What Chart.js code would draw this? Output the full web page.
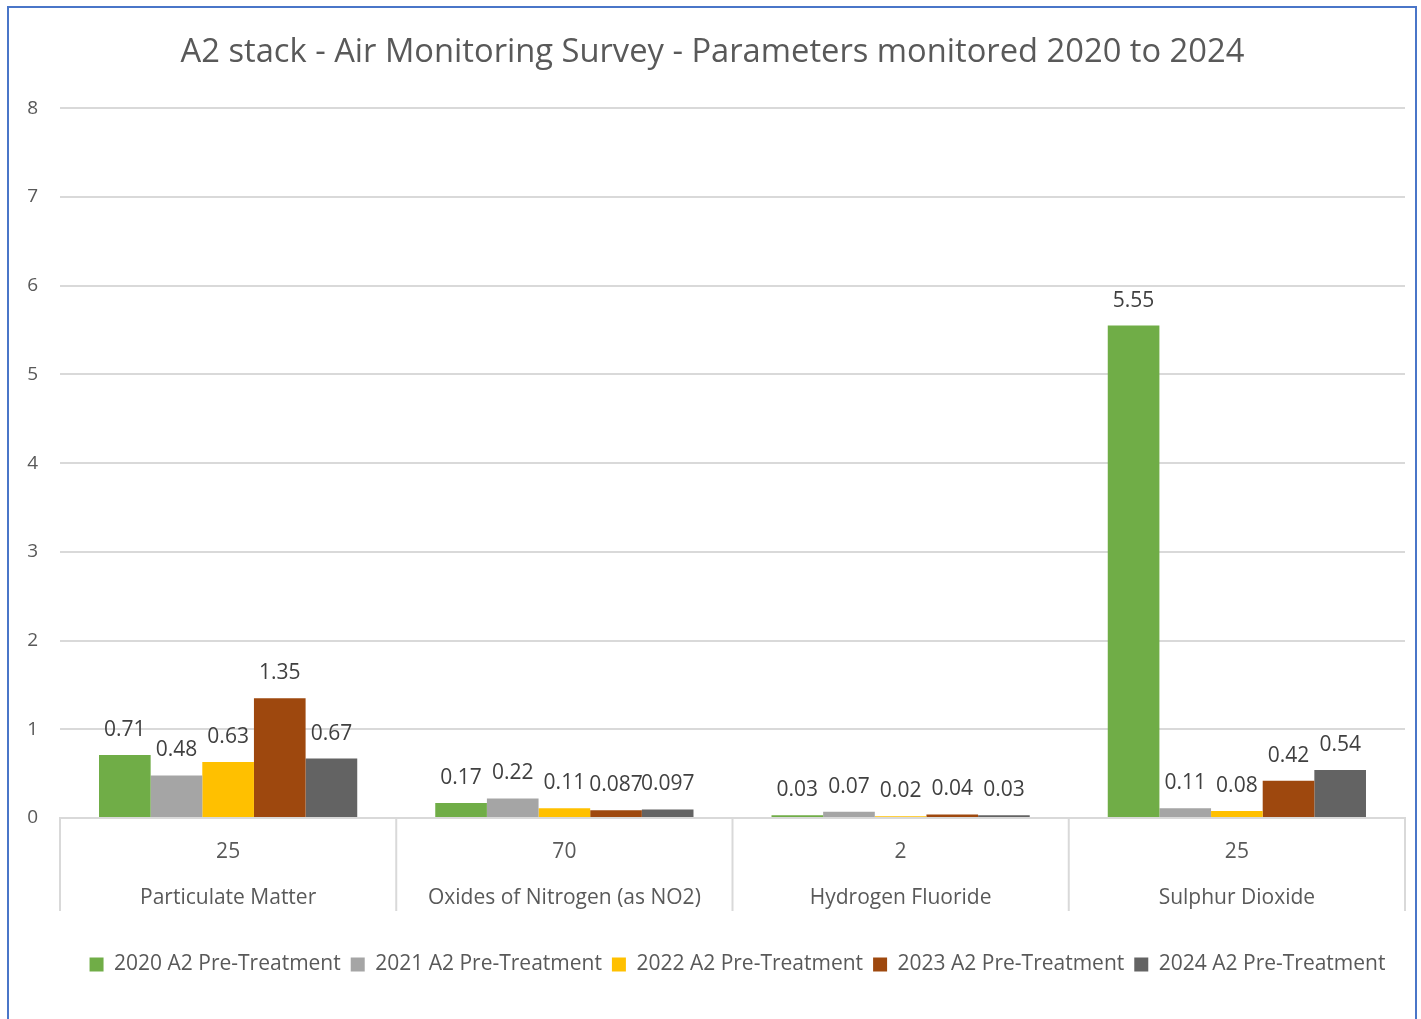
<!DOCTYPE html>
<html>
<head>
<meta charset="utf-8">
<script src="https://cdn.jsdelivr.net/npm/chart.js@4/dist/chart.umd.min.js"></script>
<style>
  html, body { margin: 0; padding: 0; background: #ffffff; overflow: hidden; }
  #wrap { position: relative; width: 1421px; height: 1019px; }
  #frame { position: absolute; left: 7px; top: 6px; width: 1406px; height: 1040px; border: 2px solid #4a76c8; box-sizing: content-box; }
  canvas { position: absolute; left: 0; top: 0; }
</style>
</head>
<body>
<div id="wrap">
  <div id="frame"></div>
  <canvas id="c" width="1421" height="1019"></canvas>
</div>
<script>
const categories = ['Particulate Matter', 'Oxides of Nitrogen (as NO2)', 'Hydrogen Fluoride', 'Sulphur Dioxide'];
const limitLabels = ['25', '70', '2', '25'];
const seriesNames = ['2020 A2 Pre-Treatment', '2021 A2 Pre-Treatment', '2022 A2 Pre-Treatment', '2023 A2 Pre-Treatment', '2024 A2 Pre-Treatment'];
const values2020 = [0.71, 0.17, 0.03, 5.55];
const values2021 = [0.48, 0.22, 0.07, 0.11];
const values2022 = [0.63, 0.11, 0.02, 0.08];
const values2023 = [1.35, 0.087, 0.04, 0.42];
const values2024 = [0.67, 0.097, 0.03, 0.54];
const yTicks = [0, 1, 2, 3, 4, 5, 6, 7, 8];

const colors = ['#70ad47', '#a5a5a5', '#ffc000', '#9e480e', '#636363'];
const allValues = [values2020, values2021, values2022, values2023, values2024];

const FONT = "'Open Sans', 'Noto Sans', sans-serif";
const TEXT = '#595959';

const valueLabels = {
  id: 'valueLabels',
  afterDatasetsDraw(chart) {
    const ctx = chart.ctx;
    ctx.save();
    ctx.font = '21px ' + FONT;
    ctx.fillStyle = '#404040';
    ctx.textAlign = 'center';
    ctx.textBaseline = 'middle';
    chart.data.datasets.forEach((ds, di) => {
      const meta = chart.getDatasetMeta(di);
      meta.data.forEach((bar, i) => {
        ctx.fillText(String(ds.data[i]), bar.x, bar.y - 25);
      });
    });
    ctx.restore();
  }
};

// vertical separators between categories, below the axis (Excel multi-level axis style)
const categoryDividers = {
  id: 'categoryDividers',
  afterDraw(chart) {
    const xs = chart.scales.x;
    const n = chart.data.labels.length;
    const w = (xs.right - xs.left) / n;
    const ctx = chart.ctx;
    ctx.save();
    ctx.strokeStyle = '#d9d9d9';
    ctx.lineWidth = 2;
    for (let i = 0; i <= n; i++) {
      const px = i < n ? xs.getPixelForValue(i) - w / 2 : xs.getPixelForValue(n - 1) + w / 2;
      ctx.beginPath();
      ctx.moveTo(px, xs.top);
      ctx.lineTo(px, xs.top + 93);
      ctx.stroke();
    }
    ctx.restore();
  }
};

// nudge the legend row slightly to the right, as in the original
const legendShift = {
  id: 'legendShift',
  afterLayout(chart) {
    if (chart.legend) {
      chart.legend.left += 25;
      chart.legend.right += 25;
    }
  }
};

new Chart(document.getElementById('c'), {
  type: 'bar',
  data: {
    labels: categories.map((c, i) => [limitLabels[i], c]),
    datasets: seriesNames.map((n, i) => ({
      label: n,
      data: allValues[i],
      backgroundColor: colors[i],
      borderWidth: 0,
      barPercentage: 1.0,
      categoryPercentage: 0.768
    }))
  },
  options: {
    responsive: false,
    animation: false,
    devicePixelRatio: 1,
    layout: { padding: { left: 20, right: 16, top: 12, bottom: 34 } },
    plugins: {
      title: {
        display: true,
        text: 'A2 stack - Air Monitoring Survey - Parameters monitored 2020 to 2024',
        color: TEXT,
        font: { family: FONT, size: 32.7, weight: 'normal' },
        padding: { top: 21, bottom: 36 }
      },
      legend: {
        position: 'bottom',
        labels: {
          color: TEXT,
          font: { family: FONT, size: 21 },
          boxWidth: 14,
          boxHeight: 14,
          padding: 10
        }
      },
      tooltip: { enabled: false }
    },
    scales: {
      x: {
        afterFit: s => { s.height = 126; },
        border: { display: true, color: '#d9d9d9', width: 2 },
        grid: { display: false },
        ticks: { color: TEXT, font: { family: FONT, size: 21, lineHeight: 46 / 21 }, padding: 3, maxRotation: 0, autoSkip: false }
      },
      y: {
        min: 0,
        max: 8,
        afterFit: s => { s.width = 40; },
        afterBuildTicks: s => { s.ticks = yTicks.map(v => ({ value: v })); },
        border: { display: false },
        grid: { color: '#d9d9d9', lineWidth: 2, drawTicks: false },
        ticks: { color: TEXT, font: { family: FONT, size: 19 }, padding: 22 }
      }
    }
  },
  plugins: [valueLabels, categoryDividers, legendShift]
});
</script>
</body>
</html>
